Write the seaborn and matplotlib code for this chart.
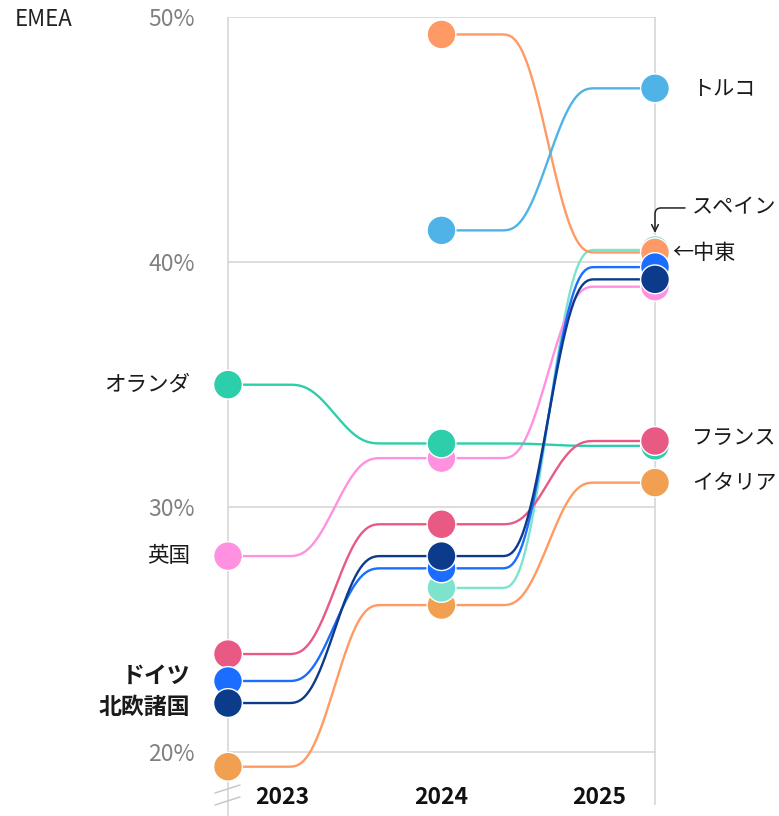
import numpy as np
import pandas as pd
import matplotlib
matplotlib.use("Agg")
import matplotlib.pyplot as plt
import matplotlib.transforms as mtransforms
import seaborn as sns

# ---------------- data ----------------
years = [2023, 2024, 2025]
year_labels = ["2023", "2024", "2025"]
series_order = ["イタリア", "スペイン", "中東", "トルコ", "英国", "オランダ", "フランス", "ドイツ", "北欧諸国"]
italy = [19.4, 26.0, 31.0]
spain = [np.nan, 26.7, 40.5]
middle_east = [np.nan, 49.3, 40.4]
turkey = [np.nan, 41.3, 47.1]
uk = [28.0, 32.0, 39.0]
netherlands = [35.0, 32.6, 32.5]
france = [24.0, 29.3, 32.7]
germany = [22.9, 27.5, 39.8]
nordics = [22.0, 28.0, 39.3]
y_ticks = [20, 30, 40, 50]
y_tick_labels = ["20%", "30%", "40%", "50%"]
title = "EMEA"

values = {
    "イタリア": italy, "スペイン": spain, "中東": middle_east, "トルコ": turkey,
    "英国": uk, "オランダ": netherlands, "フランス": france, "ドイツ": germany,
    "北欧諸国": nordics,
}

# ---------------- styles ----------------
marker_colors = {
    "イタリア": "#f0a050", "スペイン": "#7de3cc", "中東": "#ff9966", "トルコ": "#4fb3e8",
    "英国": "#ff91e0", "オランダ": "#2dcfaa", "フランス": "#e85a84", "ドイツ": "#1a6dff",
    "北欧諸国": "#0c3b8c",
}
line_colors = dict(marker_colors)
line_colors["イタリア"] = "#ff9a62"

sns.set_theme(style="white")
plt.rcParams["font.family"] = ["Noto Sans CJK JP", "DejaVu Sans"]

W, H = 779, 816
fig = plt.figure(figsize=(W / 100, H / 100), dpi=100)
top_px, y20_px, px10 = 17.3, 752.0, 24.5   # pixel per 1 %
ybot = 20 - (H - y20_px) / px10
ax = fig.add_axes([228 / W, 0, (655 - 228) / W, (H - top_px) / H])
ax.set_xlim(2023, 2025)
ax.set_ylim(ybot, 50)
for s in ax.spines.values():
    s.set_visible(False)


# ---------------- curves (flat – ramp – flat between years) ----------------
def curve_points(xs, ys, n=80):
    cx, cy = [], []
    for i in range(len(xs) - 1):
        x0, x1, y0, y1 = xs[i], xs[i + 1], ys[i], ys[i + 1]
        if np.isnan(y0) or np.isnan(y1):
            continue
        t = np.linspace(0, 1, n)
        u = np.clip((t - 0.28) / 0.44, 0, 1)
        sm = u ** 3 * (u * (6 * u - 15) + 10)
        if cx:
            t, sm = t[1:], sm[1:]
        cx.extend(x0 + (x1 - x0) * t)
        cy.extend(y0 + (y1 - y0) * sm)
    return cx, cy


rows = []
for name in series_order:
    cx, cy = curve_points(years, values[name])
    for a, b in zip(cx, cy):
        rows.append((name, a, b))
df_curve = pd.DataFrame(rows, columns=["series", "x", "y"])

pts = []
for name in series_order:
    for yr, v in zip(years, values[name]):
        if not np.isnan(v):
            pts.append((name, yr, v))
df_pts = pd.DataFrame(pts, columns=["series", "year", "value"])

# grid / frame
grid_c = "#d3d3d3"
ax.hlines(y_ticks, 2023, 2025, color=grid_c, lw=1.1, zorder=0)
ax.vlines(2023, ybot, 50, color=grid_c, lw=1.1, zorder=0, clip_on=False)
ax.vlines(2025, 20 - (805 - y20_px) / px10, 50, color=grid_c, lw=1.1, zorder=0, clip_on=False)
for (xa, ya, xb, yb) in [(215, 793, 240, 785), (215, 805, 240, 797)]:
    fig.add_artist(plt.Line2D([xa / W, xb / W], [1 - ya / H, 1 - yb / H],
                              color="#c8c8c8", lw=1.1, transform=fig.transFigure))

sns.lineplot(data=df_curve, x="x", y="y", hue="series", hue_order=series_order,
             palette=line_colors, estimator=None, sort=False, lw=1.7,
             legend=False, ax=ax, zorder=2)
sns.scatterplot(data=df_pts, x="year", y="value", hue="series", hue_order=series_order,
                palette=marker_colors, s=430, edgecolor="white", linewidth=1.0,
                legend=False, ax=ax, zorder=3, clip_on=False)

# axis ticks
ax.set_xlabel("")
ax.set_ylabel("")
ax.set_xticks([])
ax.set_yticks(y_ticks)
ax.set_yticklabels(y_tick_labels, color="#808080", fontsize=16.5)
ax.tick_params(axis="y", length=0, pad=33 * 0.72)

# year labels
for yr, lab, dx in zip(years, year_labels, [54, 0, -56]):
    ax.annotate(lab, xy=(yr, 0), xycoords=("data", "axes fraction"),
                xytext=(dx, 19), textcoords="offset pixels",
                ha="center", va="center", fontsize=16.5, fontweight="bold", color="#111111")

# title
fig.text(15 / W, 1 - 20 / H, title, ha="left", va="center", fontsize=16, color="#222222")

# series labels
lab_kw = dict(textcoords="offset pixels", va="center", color="#1a1a1a")
left_labels = [("オランダ", 0, "normal", 15.5), ("英国", 0, "normal", 15.5),
               ("ドイツ", 5, "bold", 16.5), ("北欧諸国", -4, "bold", 16.5)]
for name, dy, fw, fs in left_labels:
    ax.annotate(name, xy=(2023, values[name][0]), xytext=(-38, dy), ha="right",
                fontweight=fw, fontsize=fs, **lab_kw)
right_labels = [("トルコ", 37, 0), ("フランス", 37, 3), ("イタリア", 37, 0),
                ("スペイン", 37, 43)]
for name, dx, dy in right_labels:
    ax.annotate(name, xy=(2025, values[name][2]), xytext=(dx, dy), ha="left",
                fontsize=15.2, **lab_kw)
ax.annotate("←中東", xy=(2025, middle_east[2]), xytext=(17, -1), ha="left",
            fontsize=15.2, **lab_kw)

# arrow for Spain
tgt = mtransforms.offset_copy(ax.transData, fig=fig, x=0, y=17, units="dots")
src = mtransforms.offset_copy(ax.transData, fig=fig, x=30, y=42, units="dots")
ax.annotate("", xy=(2025, spain[2]), xycoords=tgt, xytext=(2025, spain[2]), textcoords=src,
            arrowprops=dict(arrowstyle="->", color="#222222", lw=1.1,
                            connectionstyle="angle,angleA=180,angleB=90,rad=6",
                            shrinkA=0, shrinkB=0))

fig.savefig("out.png", dpi=100)
